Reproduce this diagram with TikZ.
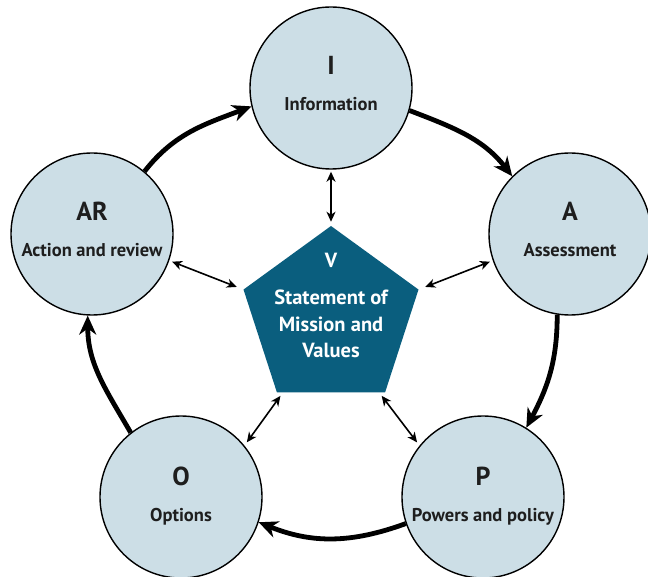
\documentclass[tikz,border=0pt]{standalone}
\usepackage{fontspec}
\setmainfont{PT Sans}
\usetikzlibrary{arrows.meta,shapes.geometric}
\definecolor{circfill}{RGB}{204,222,230}
\definecolor{pent}{RGB}{10,94,126}
\definecolor{txt}{RGB}{30,30,30}
\begin{document}
\begin{tikzpicture}[x=1pt,y=1pt,
  circ/.style={circle,draw=black,line width=1.4pt,fill=circfill,minimum size=162pt,inner sep=0pt},
  pentshape/.style={regular polygon,regular polygon sides=5,minimum size=184pt,inner sep=0pt,fill=pent,draw=none},
  letter/.style={font=\bfseries\fontsize{26}{26}\selectfont,text=txt,inner sep=0pt,anchor=base},
  word/.style={font=\bfseries\fontsize{18.5}{20}\selectfont,text=txt,inner sep=0pt,anchor=base},
  pword/.style={font=\bfseries\fontsize{20.5}{22}\selectfont,text=white,inner sep=0pt,anchor=base},
  cyc/.style={line width=4.8pt,-{Stealth[length=19pt,width=17pt,inset=6pt]}},
  bi/.style={line width=1.6pt,{Stealth[length=10pt,width=9pt,inset=3pt]}-{Stealth[length=10pt,width=9pt,inset=3pt]}}]
\useasboundingbox (0,0) rectangle (648,576);

% circles
\node[circ] (I)  at (331,488) {};
\node[circ] (A)  at (570,342) {};
\node[circ] (P)  at (483,79)  {};
\node[circ] (O)  at (181,79)  {};
\node[circ] (AR) at (92,342)  {};

% pentagon
\node[pentshape] (V) at (331,258) {};

% circle texts
\node[letter] (Il)  at (331,501) {I};
\node[word]   (Iw)  at (331,465) {Information};
\node[letter] (Al)  at (570,355) {A};
\node[word]   (Aw)  at (570,319) {Assessment};
\node[letter] (Pl)  at (483,91)  {P};
\node[word]   (Pw)  at (483,55)  {Powers and policy};
\node[letter] (Ol)  at (181,91)  {O};
\node[word]   (Ow)  at (181,55)  {Options};
\node[letter] (ARl) at (92,355)  {AR};
\node[word]   (ARw) at (92,319)  {Action and review};

% pentagon texts
\node[pword] (Vl) at (331,308) {V};
\node[pword] (V1) at (331,271) {Statement of};
\node[pword] (V2) at (331,244) {Mission and};
\node[pword] (V3) at (331,218) {Values};

% cycle arrows
\draw[cyc] (I.-16)  to[out=-21,in=128] (A.135);
\draw[cyc] (A.-99)  to[out=-90,in=62]  (P.58);
\draw[cyc] (P.199)  to[out=200,in=-22] (O.-18);
\draw[cyc] (O.128)  to[out=120,in=-90] (AR.-93);
\draw[cyc] (AR.50)  to[out=52,in=201]  (I.193);

% two-way arrows
\draw[bi,shorten <=4pt,shorten >=2pt] (V.corner 1) -- (I.south);
\draw[bi,shorten <=7pt,shorten >=3pt] (V.corner 2) -- (AR.-19);
\draw[bi,shorten <=7pt,shorten >=3pt] (V.corner 5) -- (A.199);
\draw[bi,shorten <=4pt,shorten >=4pt] ([xshift=6pt]V.corner 3) -- (O.39);
\draw[bi,shorten <=4pt,shorten >=4pt] ([xshift=-6pt]V.corner 4) -- (P.141);
\end{tikzpicture}
\end{document}
